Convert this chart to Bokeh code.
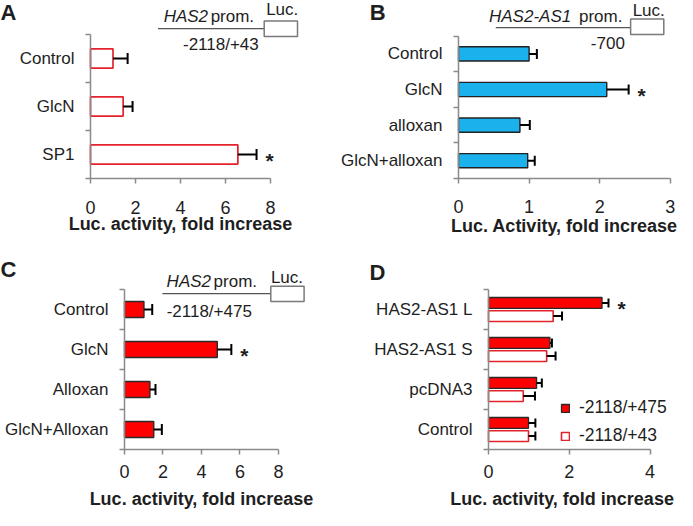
from bokeh.plotting import figure
from bokeh.models import (Range1d, FixedTicker, ColumnDataSource, Whisker, TeeHead,
                          Label, Legend, LegendItem)
from bokeh.layouts import column, row
from bokeh.embed import file_html
from bokeh.resources import INLINE
from bokeh.core.properties import value

FONT = "Liberation Sans"
TXT = "#1e1e1e"
AXC = "#8a8a8a"

# ---------------- data ----------------
a_cats = ["Control", "GlcN", "SP1"]
a_vals = [1.0, 1.45, 6.55]
a_errs = [0.65, 0.42, 0.83]
a_sig = [False, False, True]
a_xticks = [0, 2, 4, 6, 8]

b_cats = ["Control", "GlcN", "alloxan", "GlcN+alloxan"]
b_vals = [1.0, 2.10, 0.87, 0.98]
b_errs = [0.11, 0.31, 0.14, 0.10]
b_sig = [False, True, False, False]
b_xticks = [0, 1, 2, 3]

c_cats = ["Control", "GlcN", "Alloxan", "GlcN+Alloxan"]
c_vals = [1.01, 4.82, 1.32, 1.52]
c_errs = [0.43, 0.73, 0.29, 0.42]
c_sig = [False, True, False, False]
c_xticks = [0, 2, 4, 6, 8]

d_cats = ["HAS2-AS1 L", "HAS2-AS1 S", "pcDNA3", "Control"]
d_series = ["-2118/+475", "-2118/+43"]
d_vals_475 = [2.81, 1.52, 1.19, 0.99]
d_errs_475 = [0.16, 0.05, 0.13, 0.17]
d_sig_475 = [True, False, False, False]
d_vals_43 = [1.60, 1.44, 0.86, 0.99]
d_errs_43 = [0.22, 0.22, 0.29, 0.17]
d_sig_43 = [False, False, False, False]
d_xticks = [0, 2, 4]


def make_fig(width, height, xr, yr, cats, xticks, tick_standoff):
    n = len(cats)
    p = figure(width=width, height=height, x_range=Range1d(*xr),
               y_range=Range1d(*yr), output_backend="svg", toolbar_location=None,
               min_border=0, min_border_left=0, min_border_right=0,
               min_border_top=0, min_border_bottom=0, outline_line_color=None,
               background_fill_color="white", border_fill_color="white")
    p.xgrid.visible = False
    p.ygrid.visible = False
    xa = p.xaxis[0]
    xa.fixed_location = n
    xa.ticker = FixedTicker(ticks=xticks, minor_ticks=[])
    xa.bounds = (xticks[0], xticks[-1])
    xa.axis_line_color = AXC
    xa.axis_line_width = 1.5
    xa.major_tick_line_color = AXC
    xa.major_tick_line_width = 1.5
    xa.major_tick_out = 5
    xa.major_tick_in = 0
    xa.major_label_text_font = FONT
    xa.major_label_text_font_size = "18px"
    xa.major_label_text_color = TXT
    xa.major_label_standoff = tick_standoff

    ya = p.yaxis[0]
    ya.fixed_location = 0
    centers = [i + 0.5 for i in range(n)]
    ya.ticker = FixedTicker(ticks=centers, minor_ticks=list(range(n + 1)))
    ya.major_label_overrides = {c: lab for c, lab in zip(centers, cats)}
    ya.bounds = (0, n)
    ya.axis_line_color = AXC
    ya.axis_line_width = 1.5
    ya.major_tick_line_color = None
    ya.major_tick_out = 0
    ya.major_tick_in = 0
    ya.minor_tick_line_color = AXC
    ya.minor_tick_line_width = 1.5
    ya.minor_tick_out = 5
    ya.minor_tick_in = 0
    ya.major_label_text_font = FONT
    ya.major_label_text_font_size = "17px"
    ya.major_label_text_color = TXT
    ya.major_label_standoff = 11
    return p


def add_bars(p, ys, vals, errs, sig, height, fill, line, lw, cap):
    src = ColumnDataSource(dict(y=ys, right=vals,
                                upper=[v + e for v, e in zip(vals, errs)]))
    r = p.hbar(y="y", left=0, right="right", height=height, fill_color=fill,
               line_color=line, line_width=lw, source=src)
    p.add_layout(Whisker(base="y", lower="right", upper="upper", dimension="width",
                         source=src, line_color="black", line_width=2,
                         upper_head=TeeHead(size=cap, line_color="black", line_width=2),
                         lower_head=None, level="glyph"))
    sx = [v + e for v, e, s in zip(vals, errs, sig) if s]
    sy = [y for y, s in zip(ys, sig) if s]
    if sx:
        ssrc = ColumnDataSource(dict(x=sx, y=sy, t=["*"] * len(sx)))
        p.text(x="x", y="y", text="t", source=ssrc, text_font=value(FONT),
               text_font_size="21px", text_font_style="bold", text_color=TXT,
               text_align="center", text_baseline="middle", x_offset=13, y_offset=6)
    return r


def lab(p, x, y, text, size="17px", style="normal", align="left", dx=0):
    p.add_layout(Label(x=x, y=y, text=text, text_font=FONT, text_font_size=size,
                       text_font_style=style, text_color=TXT, text_align=align,
                       text_baseline="middle", x_offset=dx))


def construct(p, x0, x1, yline, bx0, bx1, by0, by1):
    p.segment(x0=x0, y0=yline, x1=x1, y1=yline, line_color="#555555", line_width=1.3)
    p.quad(left=bx0, right=bx1, top=by0, bottom=by1, fill_color="white",
           line_color="#7a7a7a", line_width=1.5)


RED = "#e3232b"
XT = "Luc. activity, fold increase"

# ---------------- Panel A ----------------
pA = make_fig(338, 255, (-4.0, 11.022), (4.603, -0.706), a_cats, a_xticks, 17)
add_bars(pA, [i + 0.5 for i in range(len(a_cats))], a_vals, a_errs, a_sig, 0.4,
         "white", RED, 1.7, 11)
construct(pA, 3.0, 7.72, -0.121, 7.72, 9.2, -0.281, 0.041)
lab(pA, 3.25, -0.373, "HAS2", style="italic")
lab(pA, 3.25, -0.373, "prom.", dx=47)
lab(pA, 8.52, -0.525, "Luc.", align="center")
lab(pA, 4.11, 0.202, "-2118/+43")
lab(pA, -4.0, -0.454, "A", size="22px", style="bold")
lab(pA, 4.0, 3.954, XT, size="18px", style="bold", align="center")

# ---------------- Panel B ----------------
pB = make_fig(339, 255, (-1.6997, 3.102), (6.163, -1.0), b_cats, b_xticks, 17)
add_bars(pB, [i + 0.5 for i in range(len(b_cats))], b_vals, b_errs, b_sig, 0.4,
         "#1bb1ec", "#222222", 1.4, 10)
construct(pB, 0.528, 2.438, -0.239, 2.438, 2.908, -0.483, -0.048)
lab(pB, 0.432, -0.55, "HAS2-AS1", style="italic")
lab(pB, 0.432, -0.55, "prom.", dx=90)
lab(pB, 2.694, -0.728, "Luc.", align="center")
lab(pB, 1.875, 0.203, "-700")
lab(pB, -1.256, -0.66, "B", size="22px", style="bold")
lab(pB, 1.5, 5.331, "Luc. Activity, fold increase", size="18px", style="bold",
    align="center")

# ---------------- Panel C ----------------
pC = make_fig(338, 255, (-6.4416, 11.117), (5.525, -0.85), c_cats, c_xticks, 10)
add_bars(pC, [i + 0.5 for i in range(len(c_cats))], c_vals, c_errs, c_sig, 0.4,
         "#ff0000", "#2a2a2a", 1.4, 11)
construct(pC, 1.97, 7.60, 0.103, 7.60, 9.33, -0.082, 0.297)
lab(pC, 2.187, -0.195, "HAS2", style="italic")
lab(pC, 2.187, -0.195, "prom.", dx=47)
lab(pC, 8.44, -0.305, "Luc.", align="center")
lab(pC, 2.19, 0.545, "-2118/+475")
lab(pC, -6.44, -0.51, "C", size="22px", style="bold")
lab(pC, 4.0, 5.225, XT, size="18px", style="bold", align="center")

# ---------------- Panel D ----------------
pD = make_fig(339, 255, (-3.7129, 4.678), (5.525, -0.85), d_cats, d_xticks, 10)
nD = len(d_cats)
r1 = add_bars(pD, [i + 0.335 for i in range(nD)], d_vals_475, d_errs_475, d_sig_475,
              0.27, "#ff0000", "#2a2a2a", 1.3, 9)
r2 = add_bars(pD, [i + 0.665 for i in range(nD)], d_vals_43, d_errs_43, d_sig_43,
              0.27, "white", RED, 1.6, 9)
lab(pD, -2.946, -0.425, "D", size="22px", style="bold")
lab(pD, 1.82, 5.225, XT, size="18px", style="bold", align="center")
legend = Legend(items=[LegendItem(label=d_series[0], renderers=[r1]),
                       LegendItem(label=d_series[1], renderers=[r2])],
                location=(222, 64), glyph_width=10, glyph_height=10,
                label_text_font=FONT, label_text_font_size="17.5px",
                label_text_color=TXT, border_line_color=None,
                background_fill_alpha=0, padding=0, margin=0, spacing=7,
                label_standoff=9)
pD.add_layout(legend)

layout = column(row(pA, pB), row(pC, pD))
open("out.html", "w").write(file_html(layout, INLINE))
